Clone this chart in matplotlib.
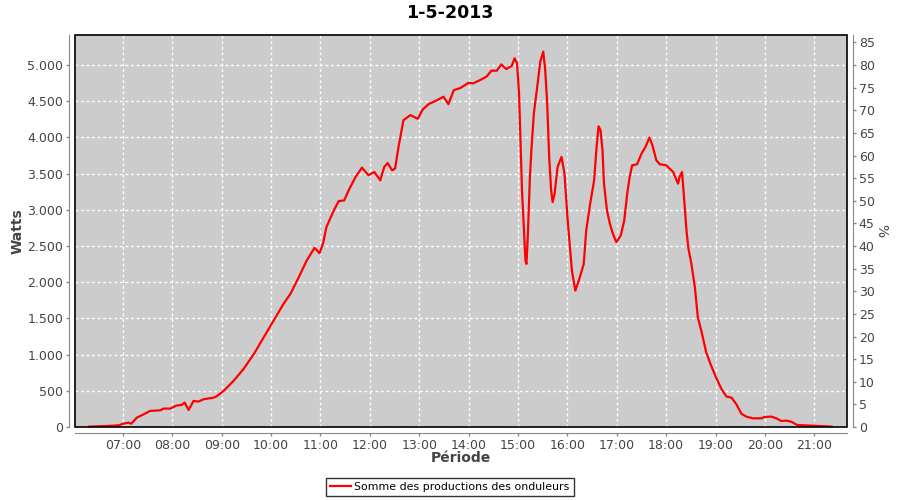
import matplotlib
matplotlib.use("Agg")
import matplotlib.pyplot as plt
from matplotlib.ticker import FuncFormatter, MultipleLocator
from matplotlib.patches import Rectangle

title = "1-5-2013"
series_name = "Somme des productions des onduleurs"

# time of day in decimal hours, power in watts
hours = [6.32, 6.68, 6.91, 7.01, 7.11, 7.17, 7.28, 7.42, 7.55, 7.76, 7.82, 7.96,
         8.08, 8.19, 8.25, 8.33, 8.43, 8.53, 8.63, 8.84, 8.90, 9.04, 9.24, 9.44,
         9.65, 9.85, 10.05, 10.25, 10.39, 10.56, 10.72, 10.88, 10.98, 11.05, 11.12,
         11.27, 11.37, 11.48, 11.57, 11.71, 11.84, 11.97, 12.09, 12.21, 12.29, 12.36,
         12.45, 12.51, 12.58, 12.68, 12.82, 12.97, 13.07, 13.19, 13.36, 13.49, 13.59,
         13.70, 13.83, 14.00, 14.09, 14.23, 14.36, 14.46, 14.57, 14.66, 14.76, 14.87,
         14.93, 14.98, 15.02, 15.05, 15.08, 15.12, 15.15, 15.17, 15.20, 15.24, 15.27,
         15.32, 15.38, 15.45, 15.51, 15.55, 15.59, 15.63, 15.67, 15.70, 15.74, 15.80,
         15.88, 15.94, 16.00, 16.05, 16.09, 16.16, 16.24, 16.33, 16.38, 16.46, 16.54,
         16.59, 16.63, 16.67, 16.71, 16.74, 16.80, 16.86, 16.92, 16.99, 17.08, 17.15,
         17.21, 17.26, 17.31, 17.41, 17.50, 17.58, 17.66, 17.72, 17.80, 17.87, 18.00,
         18.14, 18.24, 18.27, 18.32, 18.36, 18.41, 18.45, 18.51, 18.58, 18.64, 18.71,
         18.81, 18.91, 19.01, 19.12, 19.22, 19.32, 19.42, 19.52, 19.62, 19.76, 19.93,
         19.99, 20.13, 20.23, 20.33, 20.43, 20.53, 20.65, 20.97, 21.35]
watts = [5, 14, 23, 46, 60, 46, 129, 175, 222, 231, 254, 254,
         295, 305, 337, 235, 360, 351, 383, 406, 425, 499, 637, 799,
         1007, 1237, 1468, 1699, 1838, 2068, 2299, 2475, 2401, 2530, 2761,
         2992, 3121, 3130, 3269, 3454, 3583, 3477, 3523, 3407, 3592, 3647,
         3546, 3569, 3869, 4238, 4308, 4257, 4386, 4460, 4515, 4562, 4460,
         4654, 4682, 4755, 4746, 4792, 4839, 4922, 4922, 5009, 4945, 4986,
         5093, 5023, 4608, 3961, 3269, 2715, 2299, 2253, 2669, 3454, 3823,
         4331, 4654, 5046, 5185, 4931, 4469, 3731, 3269, 3107, 3223, 3592,
         3731, 3500, 2899, 2484, 2161, 1884, 2045, 2253, 2715, 3084, 3407,
         3869, 4155, 4100, 3823, 3361, 2992, 2807, 2669, 2553, 2646, 2853,
         3223, 3454, 3615, 3629, 3777, 3869, 3998, 3892, 3684, 3629, 3615,
         3523, 3361, 3454, 3523, 3176, 2715, 2461, 2253, 1930, 1514, 1330,
         1030, 845, 683, 522, 420, 406, 314, 185, 143, 120, 120,
         139, 143, 120, 83, 88, 74, 28, 18, 5]

peak_watts = 6250  # 100 % on the right axis
ymax = 5415

grey_txt = "#444444"
axis_grey = "#888888"

fig = plt.figure(figsize=(9, 5), dpi=100)
ax = fig.add_axes([75 / 900, 1 - 427 / 500, 772 / 900, 392 / 500])
ax.set_facecolor("#cccccc")

ax.plot(hours, watts, color="#ff0000", lw=1.6, label=series_name, zorder=3)
ax.set_xlim(6.03, 21.66)
ax.set_ylim(0, ymax)

ax.xaxis.set_major_locator(MultipleLocator(1))
ax.xaxis.set_major_formatter(FuncFormatter(lambda h, p: f"{int(round(h)):02d}:00"))
ax.yaxis.set_major_locator(MultipleLocator(500))
ax.yaxis.set_major_formatter(FuncFormatter(lambda v, p: f"{int(v):,}".replace(",", ".")))

ax.grid(True, color="white", linestyle=(0, (2, 2)), lw=1)
ax.set_axisbelow(True)

ax2 = ax.twinx()
ax2.set_ylim(0, ymax / peak_watts * 100)
ax2.yaxis.set_major_locator(MultipleLocator(5))

for a in (ax, ax2):
    a.tick_params(colors=axis_grey, labelcolor=grey_txt, labelsize=9, length=2.5,
                  width=1, pad=2)
    for s in a.spines.values():
        s.set_visible(False)

ax.spines["left"].set_visible(True)
ax.spines["left"].set_position(("outward", 4))
ax.spines["left"].set_color(axis_grey)
ax.spines["bottom"].set_visible(True)
ax.spines["bottom"].set_position(("outward", 4))
ax.spines["bottom"].set_color(axis_grey)
ax2.spines["right"].set_visible(True)
ax2.spines["right"].set_position(("outward", 4))
ax2.spines["right"].set_color(axis_grey)

# black border of the plot area
ax.add_patch(Rectangle((0, 0), 1, 1, transform=ax.transAxes, fill=False,
                       edgecolor="black", lw=1.2, clip_on=False, zorder=5))

ax.set_xlabel("Période", fontsize=10, fontweight="bold", color=grey_txt)
ax.xaxis.set_label_coords(0.5, -0.062)
ax.set_ylabel("Watts", fontsize=10, fontweight="bold", color=grey_txt)
ax.yaxis.set_label_coords(-0.065, 0.5)
ax2.set_ylabel("%", fontsize=10, color=grey_txt, rotation=270, ha="center", va="center")
ax2.yaxis.set_label_coords(1.044, 0.5)

fig.text(0.5, 1 - 13 / 500, title, ha="center", va="center",
         fontsize=12.5, fontweight="bold")

leg = fig.legend(loc="center", bbox_to_anchor=(0.5, 1 - 487 / 500), fontsize=7.9,
                 frameon=True, fancybox=False, handlelength=1.9, handletextpad=0.3,
                 borderpad=0.35, borderaxespad=0)
leg.get_frame().set_edgecolor("black")
leg.get_frame().set_linewidth(1)

fig.savefig("out.png", dpi=100)
